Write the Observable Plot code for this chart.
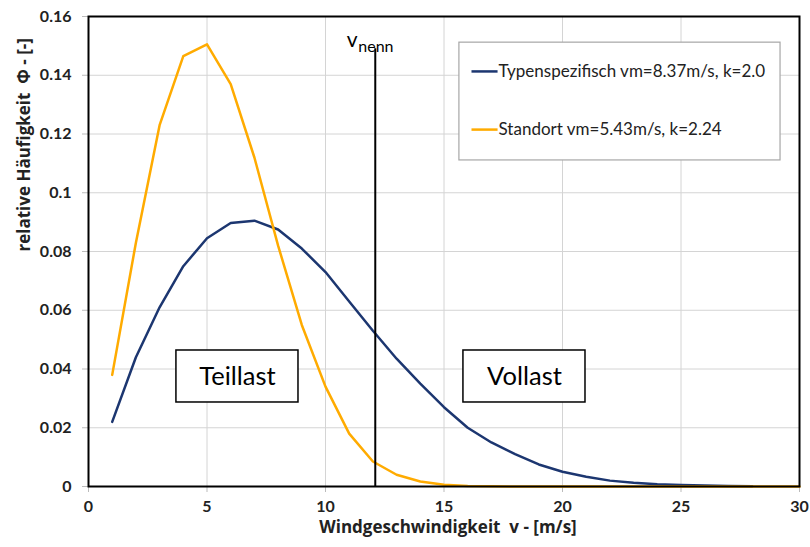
<!DOCTYPE html>
<html>
<head>
<meta charset="utf-8">
<script src="https://cdn.jsdelivr.net/npm/d3@7"></script>
<script src="https://cdn.jsdelivr.net/npm/@observablehq/plot@0.6"></script>
<style>
  html, body { margin: 0; padding: 0; background: #fff; }
  #chart svg { display: block; }
</style>
</head>
<body>
<div id="chart"></div>
<script>
// Wind speeds (m/s)
const speeds = [1,2,3,4,5,6,7,8,9,10,11,12,13,14,15,16,17,18,19,20,21,22,23,24,25,26,27,28,29,30];
// Typenspezifisch vm=8.37m/s, k=2.0
const typValues = [0.022,0.044,0.061,0.075,0.0845,0.0897,0.0905,0.0875,0.081,0.073,0.063,0.053,0.0435,0.035,0.027,0.020,0.015,0.011,0.0075,0.005,0.0033,0.002,0.0013,0.0008,0.0005,0.0003,0.0002,0.0001];
// Standort vm=5.43m/s, k=2.24
const standortValues = [0.038,0.083,0.123,0.1465,0.1505,0.137,0.112,0.082,0.055,0.034,0.018,0.0085,0.004,0.0017,0.0006,0.0002,0.0001,0,0,0,0,0,0,0,0,0,0,0,0,0];
const seriesNames = ["Typenspezifisch vm=8.37m/s, k=2.0", "Standort vm=5.43m/s, k=2.24"];
const xTicks = [0,5,10,15,20,25,30];
const yTicks = [0,0.02,0.04,0.06,0.08,0.1,0.12,0.14,0.16];
const xTitle = "Windgeschwindigkeit\u00a0 v - [m/s]";
const yTitle = "relative Häufigkeit\u00a0 Φ - [-]";
const vNenn = 12.1;
const vNennTop = 0.149;
const regionLabels = ["Teillast", "Vollast"];

const colors = {typ: "#1c3670", standort: "#ffab00"};
const font = "Lato, 'Open Sans', sans-serif";
const titleFont = "'Open Sans', Lato, sans-serif";

const typData = typValues.map((v, i) => ({x: speeds[i], y: v}));
const stData = standortValues.map((v, i) => ({x: speeds[i], y: v}));

// annotation boxes (data coordinates)
const regionBoxes = [
  {label: regionLabels[0], x1: 3.71, x2: 8.86, y1: 0.0286, y2: 0.0463},
  {label: regionLabels[1], x1: 15.82, x2: 20.97, y1: 0.0286, y2: 0.0463}
];
const legendBox = [{x1: 15.65, x2: 29.2, y1: 0.111, y2: 0.1511}];
const legendItems = [
  {name: seriesNames[0], color: colors.typ, y: 0.1413},
  {name: seriesNames[1], color: colors.standort, y: 0.1215}
];

const chart = Plot.plot({
  width: 810,
  height: 547,
  marginLeft: 88,
  marginRight: 11,
  marginTop: 16,
  marginBottom: 61,
  style: {fontFamily: font, background: "#fff"},
  x: {domain: [0, 30]},
  y: {domain: [0, 0.16]},
  marks: [
    Plot.gridX(xTicks, {stroke: "#d4d4d4", strokeOpacity: 1, strokeWidth: 1}),
    Plot.gridY(yTicks, {stroke: "#d4d4d4", strokeOpacity: 1, strokeWidth: 1}),
    Plot.axisX(xTicks, {
      tickSize: 6, tickPadding: 8, fontSize: 16, fontWeight: "bold", fill: "#222",
      stroke: "#bbb",
      tickFormat: d => String(d), label: null
    }),
    Plot.axisY(yTicks, {
      tickSize: 6, tickPadding: 11, fontSize: 16, fontWeight: "bold", fill: "#222",
      stroke: "#bbb",
      tickFormat: d => String(d), label: null
    }),
    Plot.text([xTitle], {frameAnchor: "bottom", text: d => d, dx: 4, dy: 46, fontSize: 17, fontWeight: "bold", fontFamily: titleFont, fill: "#222"}),
    Plot.text([yTitle], {frameAnchor: "left", text: d => d, rotate: -90, dx: -64, fontSize: 17, fontWeight: "bold", fontFamily: titleFont, fill: "#222"}),
    Plot.line(typData, {x: "x", y: "y", stroke: colors.typ, strokeWidth: 2.5}),
    Plot.line(stData, {x: "x", y: "y", stroke: colors.standort, strokeWidth: 2.5}),
    Plot.ruleX([vNenn], {y1: 0, y2: vNennTop, stroke: "black", strokeWidth: 2}),
    Plot.text([vNenn], {x: d => d, frameAnchor: "top", text: () => "v", dx: -23, dy: 16, fontSize: 21, fill: "black", textAnchor: "middle"}),
    Plot.text([vNenn], {x: d => d, frameAnchor: "top", text: () => "nenn", dx: -17, dy: 24, fontSize: 16, fill: "black", textAnchor: "start"}),
    Plot.rect(regionBoxes, {x1: "x1", x2: "x2", y1: "y1", y2: "y2", fill: "white", stroke: "black", strokeWidth: 1.5}),
    Plot.text(regionBoxes, {x: d => (d.x1 + d.x2) / 2, y: d => (d.y1 + d.y2) / 2, text: "label", fontSize: 25.5, fill: "black"}),
    Plot.rect(legendBox, {x1: "x1", x2: "x2", y1: "y1", y2: "y2", fill: "white", stroke: "#a6a6a6", strokeWidth: 1.2}),
    Plot.link(legendItems, {x1: 16.16, x2: 17.26, y1: "y", y2: "y", stroke: "color", strokeWidth: 2.5}),
    Plot.text(legendItems, {x: 17.3, y: "y", text: "name", textAnchor: "start", fontSize: 17, fill: "#222"}),
    Plot.frame({stroke: "black", strokeWidth: 2})
  ]
});
document.getElementById("chart").appendChild(chart);
</script>
</body>
</html>
